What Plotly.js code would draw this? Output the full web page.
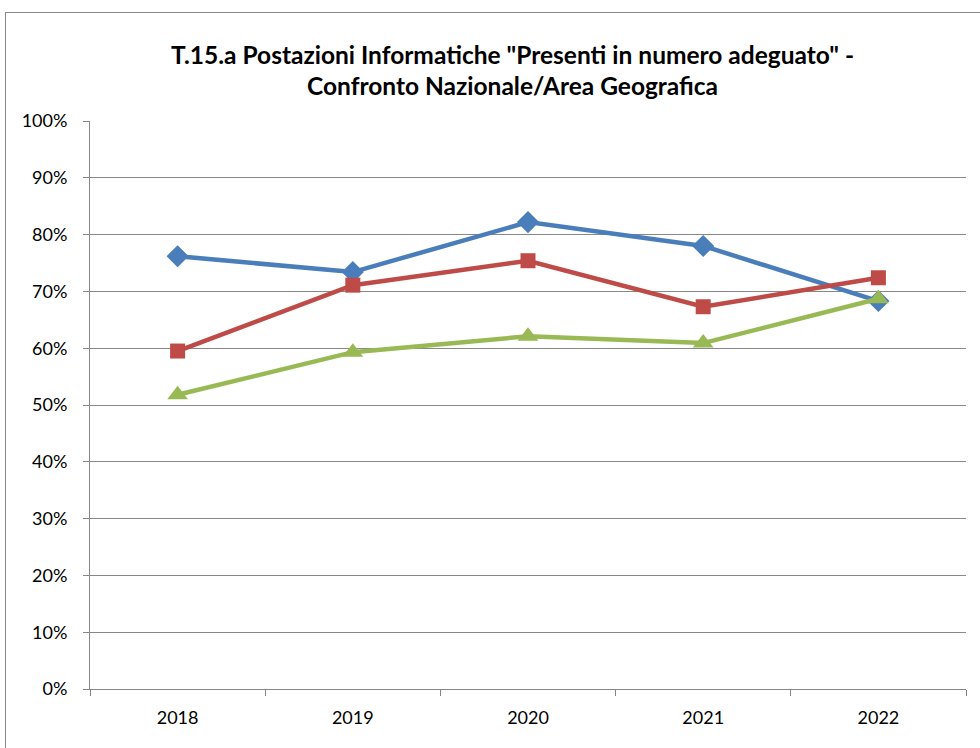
<!DOCTYPE html>
<html>
<head>
<meta charset="utf-8">
<script src="https://cdn.plot.ly/plotly-3.0.1.min.js"></script>
<style>
  html, body { margin: 0; padding: 0; background: #fff; }
  #wrap { position: relative; width: 980px; height: 748px; overflow: hidden; }
  #chart { width: 980px; height: 748px; }
  #frame { position: absolute; left: 5px; top: 12px; width: 1000px; height: 800px; border: 1px solid #888; pointer-events: none; }
</style>
</head>
<body>
<div id="wrap">
  <div id="chart"></div>
  <div id="frame"></div>
</div>
<script>
const years = ["2018", "2019", "2020", "2021", "2022"];
const seriesA = [76.2, 73.4, 82.2, 78.0, 68.3];
const seriesB = [59.5, 71.1, 75.4, 67.3, 72.4];
const seriesC = [51.8, 59.3, 62.1, 60.9, 68.7];
const yTicks = [0, 10, 20, 30, 40, 50, 60, 70, 80, 90, 100];

const font = "Lato, sans-serif";

function tr(y, color, symbol, size) {
  return {
    x: years, y: y, type: "scatter", mode: "lines+markers",
    line: { color: color, width: 4.5 },
    marker: { color: color, symbol: symbol, size: size },
    showlegend: false, hoverinfo: "x+y"
  };
}

const data = [
  tr(seriesA, "#4A7EBB", "diamond", 17),
  tr(seriesB, "#BE4B48", "square", 15),
  tr(seriesC, "#98B954", "triangle-up", 18)
];

const layout = {
  width: 980, height: 748,
  margin: { l: 90, r: 14, t: 121, b: 59 },
  paper_bgcolor: "#fff", plot_bgcolor: "#fff",
  font: { family: font, color: "#000", size: 18 },
  title: {
    text: "<b>T.15.a Postazioni Informatiche \"Presenti in numero adeguato\" -<br>Confronto Nazionale/Area Geografica</b>",
    font: { family: font, size: 24.5, color: "#000" },
    x: 0.523, xanchor: "center", y: 0.915, yanchor: "middle"
  },
  xaxis: {
    type: "category", range: [-0.5, 4.5],
    showline: true, linecolor: "#868686", linewidth: 1,
    ticks: "outside", tickson: "boundaries", ticklen: 6, tickcolor: "#868686",
    ticklabelstandoff: 12,
    showgrid: false, zeroline: false,
    tickfont: { family: font, size: 18, color: "#000" }
  },
  yaxis: {
    range: [0, 100],
    tickvals: yTicks, ticktext: yTicks.map(v => v + "%"),
    showline: true, linecolor: "#868686", linewidth: 1,
    ticks: "outside", ticklen: 6, tickcolor: "#868686",
    ticklabelstandoff: 12,
    showgrid: true, gridcolor: "#888888", gridwidth: 1,
    zeroline: false,
    tickfont: { family: font, size: 18, color: "#000" }
  }
};

Plotly.newPlot("chart", data, layout, { displayModeBar: false, staticPlot: true });
</script>
</body>
</html>
